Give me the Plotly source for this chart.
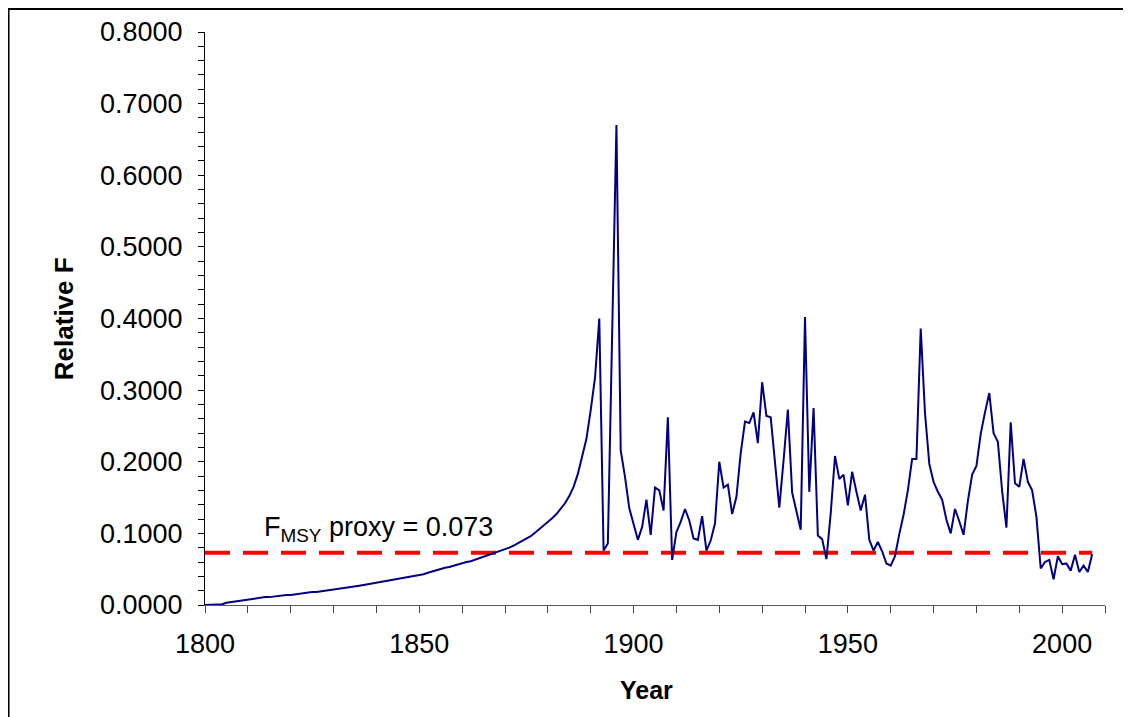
import plotly.graph_objects as go

years = list(range(1800, 2008))

relative_f = [
    # 1800-1809
    0.000, 0.000, 0.000, 0.000, 0.001, 0.003, 0.004, 0.005, 0.006, 0.007,
    # 1810-1819
    0.008, 0.009, 0.009, 0.010, 0.011, 0.011, 0.012, 0.013, 0.013, 0.014,
    # 1820-1829
    0.014, 0.015, 0.016, 0.016, 0.017, 0.018, 0.018, 0.019, 0.020, 0.021,
    # 1830-1839
    0.021, 0.022, 0.023, 0.024, 0.025, 0.026, 0.027, 0.028, 0.029, 0.030,
    # 1840-1849
    0.031, 0.032, 0.034, 0.035, 0.036, 0.037, 0.038, 0.039, 0.040, 0.041,
    # 1850-1859
    0.042, 0.043, 0.045, 0.047, 0.048, 0.050, 0.052, 0.053, 0.055, 0.057,
    # 1860-1869
    0.058, 0.060, 0.061, 0.063, 0.065, 0.067, 0.069, 0.071, 0.073, 0.075,
    # 1870-1879
    0.078, 0.080, 0.083, 0.086, 0.089, 0.092, 0.096, 0.101, 0.106, 0.110,
    # 1880-1889
    0.115, 0.121, 0.127, 0.134, 0.142, 0.152, 0.165, 0.183, 0.206, 0.232,
    # 1890-1899
    0.272, 0.317, 0.400, 0.076, 0.086, 0.400, 0.670, 0.216, 0.179, 0.135,
    # 1900-1909
    0.112, 0.091, 0.109, 0.147, 0.098, 0.164, 0.160, 0.132, 0.262, 0.063,
    # 1910-1919
    0.102, 0.116, 0.134, 0.118, 0.093, 0.091, 0.124, 0.076, 0.090, 0.114,
    # 1920-1929
    0.200, 0.164, 0.168, 0.127, 0.151, 0.212, 0.256, 0.254, 0.269, 0.226,
    # 1930-1939
    0.311, 0.264, 0.262, 0.200, 0.136, 0.202, 0.273, 0.157, 0.129, 0.105,
    # 1940-1949
    0.402, 0.158, 0.275, 0.097, 0.092, 0.064, 0.128, 0.208, 0.176, 0.182,
    # 1950-1959
    0.139, 0.186, 0.158, 0.132, 0.154, 0.091, 0.076, 0.088, 0.075, 0.058,
    # 1960-1969
    0.055, 0.068, 0.099, 0.126, 0.160, 0.204, 0.204, 0.386, 0.268, 0.197,
    # 1970-1979
    0.172, 0.158, 0.147, 0.119, 0.100, 0.134, 0.117, 0.098, 0.145, 0.182,
    # 1980-1989
    0.194, 0.239, 0.269, 0.296, 0.240, 0.228, 0.159, 0.108, 0.255, 0.170,
    # 1990-1999
    0.165, 0.204, 0.172, 0.160, 0.123, 0.051, 0.060, 0.063, 0.036, 0.068,
    # 2000-2007
    0.057, 0.058, 0.048, 0.070, 0.046, 0.055, 0.046, 0.071,
]

fmsy_proxy = 0.073
fmsy_years = [1800, 2007]
fmsy_values = [fmsy_proxy, fmsy_proxy]

y_ticks = [0.0, 0.1, 0.2, 0.3, 0.4, 0.5, 0.6, 0.7, 0.8]
x_ticks = [1800, 1850, 1900, 1950, 2000]

FONT = "Liberation Sans, Arial, sans-serif"

fig = go.Figure()

fig.add_trace(go.Scatter(
    x=fmsy_years, y=fmsy_values, mode="lines",
    line=dict(color="#ff0000", width=4, dash="25px,13px"),
    hoverinfo="skip", showlegend=False,
))

fig.add_trace(go.Scatter(
    x=years, y=relative_f, mode="lines",
    line=dict(color="#000080", width=2),
    showlegend=False,
))

# page body has an 8px default margin, so the figure is offset by 8px
fig.update_layout(
    width=1131, height=717,
    margin=dict(l=197, r=34, t=24, b=120, autoexpand=False),
    paper_bgcolor="white", plot_bgcolor="white",
    font=dict(family=FONT, color="black", size=27),
    showlegend=False,
)

fig.update_xaxes(
    range=[1800, 2010], automargin=False,
    tickvals=x_ticks,
    ticks="outside", ticklen=7, tickcolor="#444", tickwidth=1,
    minor=dict(dtick=10, tick0=1800, ticks="outside", ticklen=7, tickcolor="#444"),
    showline=True, linecolor="#555", linewidth=1,
    showgrid=False, zeroline=False,
    tickfont=dict(size=27, family=FONT),
    ticklabelstandoff=8,
)

fig.update_yaxes(
    range=[0, 0.8], automargin=False,
    tickvals=y_ticks, tickformat=".4f",
    ticks="outside", ticklen=6, tickcolor="black", tickwidth=1,
    minor=dict(dtick=0.02, tick0=0, ticks="outside", ticklen=6, tickcolor="black"),
    showline=True, linecolor="black", linewidth=1,
    showgrid=False, zeroline=False,
    tickfont=dict(size=27, family=FONT),
    ticklabelstandoff=10,
)

# Axis titles
fig.add_annotation(
    text="<b>Year</b>", xref="paper", yref="paper",
    x=0.491, y=-0.148, xanchor="center", yanchor="middle",
    showarrow=False, font=dict(size=25, family=FONT),
)
fig.add_annotation(
    text="<b>Relative F</b>", xref="paper", yref="paper",
    x=-0.157, y=0.5, xanchor="center", yanchor="middle", textangle=-90,
    showarrow=False, font=dict(size=26, family=FONT),
)

# F_MSY label
fig.add_annotation(
    text="F<sub>MSY</sub> proxy = 0.073", xref="x", yref="y",
    x=1813.3, y=0.079, xanchor="left", yanchor="bottom",
    showarrow=False, font=dict(size=27, family=FONT),
)

# Outer frame (left and top edges visible)
fig.add_shape(
    type="rect", xref="paper", yref="paper",
    x0=-0.2183, x1=1.2, y0=-0.35, y1=1.0401,
    line=dict(color="black", width=2), fillcolor="rgba(0,0,0,0)",
    layer="below",
)

fig.write_html("out.html")
